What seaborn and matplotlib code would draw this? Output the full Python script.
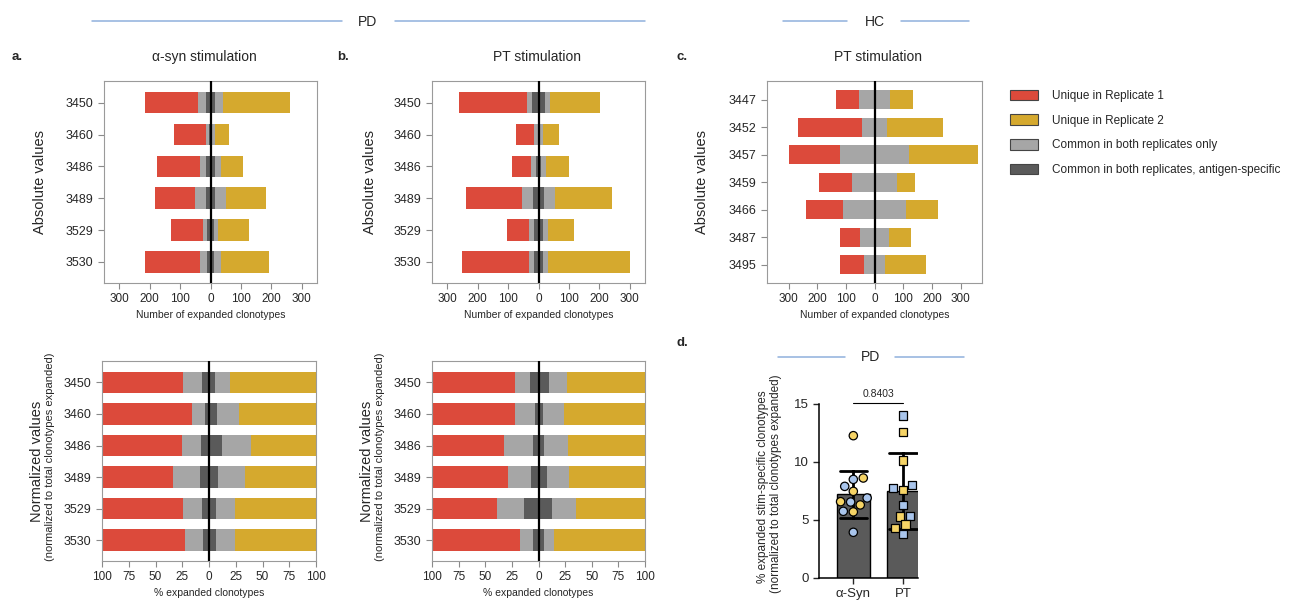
import numpy as np
import pandas as pd
import matplotlib.pyplot as plt
from matplotlib.lines import Line2D
from matplotlib.patches import Patch
import seaborn as sns

# -------------------------------
# Data
# -------------------------------
donors_pd = ["3450", "3460", "3486", "3489", "3529", "3530"]
donors_hc = ["3447", "3452", "3457", "3459", "3466", "3487", "3495"]

# a. alpha-syn stimulation, absolute numbers
rep1_a = [216, 120, 176, 183, 129, 214]
rep2_a = [262, 62, 108, 181, 127, 191]
common_a = [40, 15, 34, 50, 25, 36]
spec_a = [15, 5, 15, 16, 10, 13]

# b. PT stimulation (PD), absolute numbers
rep1_b = [262, 74, 87, 237, 104, 251]
rep2_b = [202, 67, 101, 240, 118, 300]
common_b = [37, 14, 25, 55, 30, 30]
spec_b = [22, 3, 7, 19, 14, 14]

# c. PT stimulation (HC), absolute numbers
rep1_c = [134, 267, 297, 192, 238, 120, 120]
rep2_c = [133, 238, 360, 142, 220, 127, 180]
common_c = [55, 45, 120, 77, 110, 50, 36]

# normalized (% of expanded clonotypes per replicate)
common_l_na = [24.7, 15.6, 25.6, 34.0, 24.7, 22.5]
spec_l_na = [6.9, 3.8, 7.8, 8.4, 6.3, 5.3]
spec_r_na = [5.6, 7.5, 11.9, 8.8, 6.3, 6.3]
common_r_na = [19.7, 28.0, 39.0, 33.7, 24.4, 24.4]

common_l_nb = [21.6, 21.9, 32.2, 29.0, 39.0, 17.2]
spec_l_nb = [7.8, 3.4, 4.7, 7.2, 13.4, 5.6]
spec_r_nb = [10.0, 4.0, 4.7, 7.8, 12.5, 5.6]
common_r_nb = [27.2, 24.4, 28.1, 28.4, 35.3, 15.0]

# d. % stim-specific clonotypes
asyn_blue = [8.5, 7.9, 6.9, 6.55, 5.75, 3.94]
asyn_yellow = [12.27, 8.62, 7.47, 6.58, 6.3, 5.7]
pt_blue = [14.0, 8.0, 7.73, 6.3, 5.37, 3.8]
pt_yellow = [12.56, 10.14, 7.6, 5.3, 4.6, 4.3]
p_value = "0.8403"

RED = "#DC4A3B"
YELLOW = "#D5A92E"
GREY = "#A6A6A6"
DARK = "#5A5A5A"
BLUE_PT = "#A9C5EC"
YEL_PT = "#F6D466"
LINE_BLUE = "#8FB0DC"

sns.set_style("white")
plt.rcParams['font.family'] = ['Liberation Sans', 'DejaVu Sans']

W, H = 1295, 608
fig = plt.figure(figsize=(W / 100, H / 100), dpi=100)


def box(x, y, w, h):
    return [x / W, 1 - (y + h) / H, w / W, h / H]


def ftext(x, y, s, **kw):
    fig.text(x / W, 1 - y / H, s, **kw)


def hline(x0, x1, y):
    fig.add_artist(Line2D([x0 / W, x1 / W], [1 - y / H, 1 - y / H],
                          transform=fig.transFigure, color=LINE_BLUE, lw=1.1))


def diverging(ax, donors, layers, lim, ticks, n):
    for vals, col in layers:
        sns.barplot(x=vals, y=donors, orient="h", color=col, saturation=1,
                    width=0.68, errorbar=None, linewidth=0, ax=ax)
    ax.axvline(0, color="black", lw=1.6, zorder=5)
    ax.set_xlim(-lim, lim)
    ax.set_ylim(n - 1 + 0.66, -0.68)
    ax.set_xticks(ticks)
    ax.set_xticklabels([str(abs(t)) for t in ticks], fontsize=8.5)
    ax.tick_params(axis="y", labelsize=9)
    ax.tick_params(left=True, bottom=True, length=4, color="#8a8a8a", width=0.8)
    for s in ax.spines.values():
        s.set_color("#9a9a9a")
        s.set_linewidth(0.8)
    ax.set_ylabel("")


def neg(v):
    return [-x for x in v]


# -------------------------------
# Top row: absolute values
# -------------------------------
ticks_abs = [-300, -200, -100, 0, 100, 200, 300]

ax_a = fig.add_axes(box(104, 81, 213, 202))
diverging(ax_a, donors_pd,
          [(neg(rep1_a), RED), (rep2_a, YELLOW), (neg(common_a), GREY),
           (common_a, GREY), (neg(spec_a), DARK), (spec_a, DARK)],
          350, ticks_abs, 6)
ax_a.set_xlabel("Number of expanded clonotypes", fontsize=7.5, labelpad=3)

ax_b = fig.add_axes(box(432, 81, 213, 202))
diverging(ax_b, donors_pd,
          [(neg(rep1_b), RED), (rep2_b, YELLOW), (neg(common_b), GREY),
           (common_b, GREY), (neg(spec_b), DARK), (spec_b, DARK)],
          350, ticks_abs, 6)
ax_b.set_xlabel("Number of expanded clonotypes", fontsize=7.5, labelpad=3)

ax_c = fig.add_axes(box(767, 81, 215, 202))
diverging(ax_c, donors_hc,
          [(neg(rep1_c), RED), (rep2_c, YELLOW), (neg(common_c), GREY),
           (common_c, GREY)],
          375, ticks_abs, 7)
ax_c.set_xlabel("Number of expanded clonotypes", fontsize=7.5, labelpad=3)

# -------------------------------
# Bottom row: normalized values
# -------------------------------
ticks_pct = [-100, -75, -50, -25, 0, 25, 50, 75, 100]
full = [100] * 6

ax_na = fig.add_axes(box(102, 361, 214, 200))
diverging(ax_na, donors_pd,
          [(neg(full), RED), (full, YELLOW), (neg(common_l_na), GREY),
           (common_r_na, GREY), (neg(spec_l_na), DARK), (spec_r_na, DARK)],
          100, ticks_pct, 6)
ax_na.set_xlabel("% expanded clonotypes", fontsize=7.5, labelpad=3)

ax_nb = fig.add_axes(box(432, 361, 213, 200))
diverging(ax_nb, donors_pd,
          [(neg(full), RED), (full, YELLOW), (neg(common_l_nb), GREY),
           (common_r_nb, GREY), (neg(spec_l_nb), DARK), (spec_r_nb, DARK)],
          100, ticks_pct, 6)
ax_nb.set_xlabel("% expanded clonotypes", fontsize=7.5, labelpad=3)

# -------------------------------
# d. bar + swarm
# -------------------------------
df_d = pd.DataFrame({
    "group": ["α-Syn"] * 12 + ["PT"] * 12,
    "value": asyn_blue + asyn_yellow + pt_blue + pt_yellow,
    "cohort": (["blue"] * 6 + ["yellow"] * 6) * 2,
})
order = ["α-Syn", "PT"]
ax_d = fig.add_axes(box(819, 404, 99, 174))
sns.barplot(data=df_d, x="group", y="value", order=order, errorbar="sd",
            color=DARK, saturation=1, width=0.66, edgecolor="black", linewidth=1,
            capsize=0.55, err_kws={"color": "black", "linewidth": 2}, ax=ax_d)
for grp, mk in [("α-Syn", "o"), ("PT", "s")]:
    sns.swarmplot(data=df_d[df_d["group"] == grp], x="group", y="value", order=order,
                  hue="cohort", palette={"blue": BLUE_PT, "yellow": YEL_PT},
                  marker=mk, size=6, edgecolor="black", linewidth=0.9,
                  legend=False, ax=ax_d, zorder=4)
ax_d.set_xlim(-0.69, 1.3)
ax_d.set_ylim(0, 15)
ax_d.set_yticks([0, 5, 10, 15])
ax_d.set_xlabel("")
ax_d.set_ylabel("")
ax_d.tick_params(left=True, bottom=True, length=4, width=1, labelsize=9.5)
sns.despine(ax=ax_d)
for s in ["left", "bottom"]:
    ax_d.spines[s].set_color("black")
    ax_d.spines[s].set_linewidth(1.1)
ax_d.plot([0, 1], [15.05, 15.05], color="black", lw=0.8, clip_on=False)
ax_d.text(0.5, 15.4, p_value, ha="center", va="bottom", fontsize=7.5)

# -------------------------------
# Text, headers, legend
# -------------------------------
hline(92, 342, 21)
hline(395, 645, 21)
ftext(368, 22, "PD", ha="center", va="center", fontsize=10)
hline(783, 847, 21)
hline(901, 969, 21)
ftext(875, 22, "HC", ha="center", va="center", fontsize=10)
hline(778, 845, 357)
hline(895, 964, 357)
ftext(871, 357, "PD", ha="center", va="center", fontsize=10)

for x, y, s in [(17, 57, "a."), (343, 57, "b."), (682, 57, "c."), (682, 343, "d.")]:
    ftext(x, y, s, ha="center", va="center", fontsize=9.5, fontweight="bold")
ftext(204, 57, "α-syn stimulation", ha="center", va="center", fontsize=10)
ftext(537, 57, "PT stimulation", ha="center", va="center", fontsize=10)
ftext(878, 57, "PT stimulation", ha="center", va="center", fontsize=10)

for x in [40, 370, 702]:
    ftext(x, 182, "Absolute values", ha="center", va="center", rotation=90, fontsize=10.5)
for x in [37, 367]:
    ftext(x, 461, "Normalized values", ha="center", va="center", rotation=90, fontsize=10.5)
    ftext(x + 13, 457, "(normalized to total clonotypes expanded)", ha="center",
          va="center", rotation=90, fontsize=8)
ftext(763, 487, "% expanded stim-specific clonotypes", ha="center", va="center",
      rotation=90, fontsize=8.5)
ftext(776, 484, "(normalized to total clonotypes expanded)", ha="center", va="center",
      rotation=90, fontsize=8.5)

handles = [Patch(facecolor=c, edgecolor="#444444", linewidth=0.8)
           for c in [RED, YELLOW, GREY, DARK]]
labels = ["Unique in Replicate 1", "Unique in Replicate 2",
          "Common in both replicates only", "Common in both replicates, antigen-specific"]
fig.legend(handles, labels, loc="upper left", bbox_to_anchor=(1005 / W, 1 - 85 / H),
           frameon=False, fontsize=8.5, handlelength=2.4, handleheight=1.0,
           labelspacing=1.05, handletextpad=1.2, borderaxespad=0)

fig.savefig("out.png", dpi=100)
